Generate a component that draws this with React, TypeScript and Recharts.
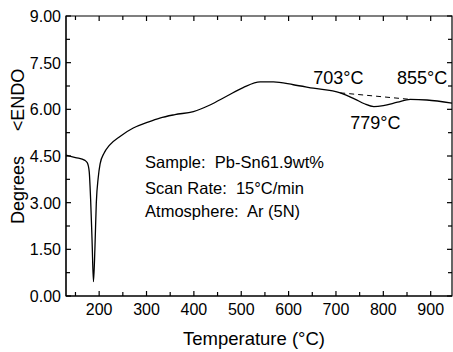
import React from "react"
import {
  ComposedChart, Line, XAxis, YAxis, ReferenceDot, ReferenceLine, ReferenceArea,
} from "recharts"

// temperature (°C) and signal (Degrees)
const temps = [130, 150, 170, 175, 179, 182, 185, 188, 191, 194, 198, 202, 210, 222, 244, 272, 300, 328, 360, 399, 434, 469, 504, 540, 568, 610, 652, 709, 740, 760, 780, 800, 830, 857, 892, 945]
const signal = [4.53, 4.45, 4.36, 4.28, 4.0, 3.1, 1.8, 0.46, 1.5, 3.0, 3.8, 4.25, 4.58, 4.85, 5.13, 5.4, 5.57, 5.72, 5.83, 5.93, 6.14, 6.42, 6.7, 6.88, 6.88, 6.79, 6.68, 6.53, 6.33, 6.18, 6.09, 6.12, 6.23, 6.32, 6.3, 6.2]
// dashed baseline between onset and end temperatures
const baseT = [709, 857]
const baseV = [6.53, 6.32]

const xDomain = [130, 945]
const yDomain = [0, 9]
const xTicks = [150, 200, 250, 300, 350, 400, 450, 500, 550, 600, 650, 700, 750, 800, 850, 900]
const yTicks = [0, 0.75, 1.5, 2.25, 3, 3.75, 4.5, 5.25, 6, 6.75, 7.5, 8.25, 9]

const peaks = [
  { t: 705, v: 7.02, text: "703°C" },
  { t: 882, v: 7.02, text: "855°C" },
  { t: 783, v: 5.55, text: "779°C" },
]
const infoLines = ["Sample:  Pb-Sn61.9wt%", "Scan Rate:  15°C/min", "Atmosphere:  Ar (5N)"]
const infoV = [4.3, 3.46, 2.72]

const data = temps.map((t, i) => {
  const bi = baseT.indexOf(t)
  return { t, v: signal[i], base: bi >= 0 ? baseV[bi] : null }
})

const FONT = "'Liberation Sans', Arial, sans-serif"
const isMajorX = (v: number) => v % 100 === 0
const isMajorY = (v: number) => Math.abs(v / 1.5 - Math.round(v / 1.5)) < 1e-6

function BottomTick(p: any) {
  const major = isMajorX(p.payload.value)
  return (
    <g>
      <path d={`M${p.x},${p.y}V${p.y - (major ? 5 : 4)}`} stroke="#000" strokeWidth={1.2} />
      {major && <text x={p.x} y={p.y + 19} textAnchor="middle" fontSize={16} fontFamily={FONT} fill="#000">{p.payload.value}</text>}
    </g>
  )
}
function LeftTick(p: any) {
  const v = p.payload.value
  const major = isMajorY(v)
  return (
    <g>
      <path d={`M${p.x},${p.y}H${p.x + (major ? 5 : 4)}`} stroke="#000" strokeWidth={1.2} />
      {major && <text x={p.x - 5} y={p.y + 6} textAnchor="end" fontSize={16} fontFamily={FONT} fill="#000">{v.toFixed(2)}</text>}
    </g>
  )
}
// top-edge tick for a vertical reference line
const topTick = (major: boolean) => (s: any) => {
  const top = Math.min(s.y1, s.y2)
  return <path d={`M${s.x1},${top}V${top + (major ? 5 : 4)}`} stroke="#000" strokeWidth={1.2} />
}
// right-edge tick for a horizontal reference line
const rightTick = (major: boolean) => (s: any) => {
  const right = Math.max(s.x1, s.x2)
  return <path d={`M${right},${s.y1}H${right - (major ? 5 : 4)}`} stroke="#000" strokeWidth={1.2} />
}

function XTitle(p: any) {
  const vb = p.viewBox
  return <text x={vb.x + vb.width / 2 - 5} y={vb.y + 49} textAnchor="middle" fontSize={18.5} fontFamily={FONT} fill="#000">Temperature (°C)</text>
}
function YTitle() {
  return (
    <g fontSize={18} fontFamily={FONT} fill="#000">
      <text transform="translate(24,190) rotate(-90)" textAnchor="middle">Degrees</text>
      <text transform="translate(24,100) rotate(-90)" textAnchor="middle">&lt;ENDO</text>
    </g>
  )
}

export default function App() {
  return (
    <div style={{ position: "absolute", left: 0, top: 0, background: "#fff" }}>
      <ComposedChart width={453} height={352} data={data} margin={{ top: 16, right: 1, bottom: 0, left: 0 }}>
        <XAxis dataKey="t" type="number" domain={xDomain} allowDataOverflow ticks={xTicks} interval={0}
          height={56} tickSize={0} tickMargin={0} tick={<BottomTick />} stroke="#000" label={<XTitle />} />
        <YAxis type="number" domain={yDomain} ticks={yTicks} interval={0} width={66}
          tickSize={0} tickMargin={0} tick={<LeftTick />} stroke="#000" label={<YTitle />} />
        {/* frame: top and right edges of the plot box */}
        <ReferenceArea x1={xDomain[0]} x2={xDomain[1]} y1={yDomain[0]} y2={yDomain[1]} fill="none" stroke="#000" strokeWidth={1.2} ifOverflow="visible" />
        {xTicks.map((t) => (
          <ReferenceLine key={"x" + t} x={t} stroke="#000" ifOverflow="visible" shape={topTick(isMajorX(t))} />
        ))}
        {yTicks.map((v) => (
          <ReferenceLine key={"y" + v} y={v} stroke="#000" ifOverflow="visible" shape={rightTick(isMajorY(v))} />
        ))}
        <Line type="monotone" dataKey="v" stroke="#000" strokeWidth={1.3} dot={false} isAnimationActive={false} />
        <Line type="linear" dataKey="base" stroke="#000" strokeWidth={1} strokeDasharray="5 4"
          dot={false} connectNulls isAnimationActive={false} />
        {peaks.map((pk) => (
          <ReferenceDot key={pk.text} x={pk.t} y={pk.v} r={0}
            shape={(s: any) => (
              <text x={s.cx} y={s.cy + 6} textAnchor="middle" fontSize={18} fontFamily={FONT} fill="#000">{pk.text}</text>
            )} />
        ))}
        {infoLines.map((txt, i) => (
          <ReferenceDot key={txt} x={297} y={infoV[i]} r={0}
            shape={(s: any) => (
              <text x={s.cx} y={s.cy + 6} fontSize={16.5} fontFamily={FONT} fill="#000" style={{ whiteSpace: "pre" }}>{txt}</text>
            )} />
        ))}
      </ComposedChart>
    </div>
  )
}
